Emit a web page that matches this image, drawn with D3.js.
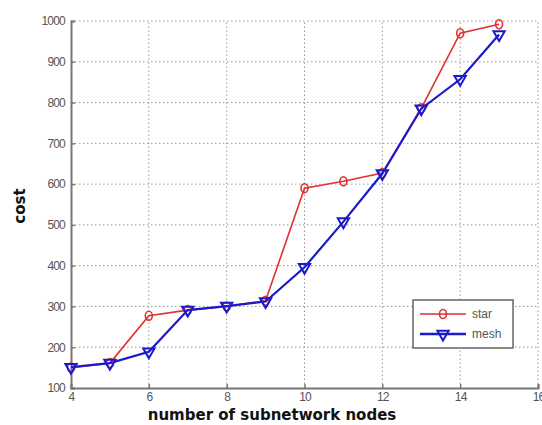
<!DOCTYPE html>
<html>
<head>
<meta charset="utf-8">
<script src="https://cdn.jsdelivr.net/npm/d3@7"></script>
<style>
  body { margin: 0; background: #fff; }
  svg { display: block; }
</style>
</head>
<body>
<svg id="chart" width="542" height="425"></svg>
<script>
// Cost per topology against the number of subnetwork nodes
const nodes = [4, 5, 6, 7, 8, 9, 10, 11, 12, 13, 14, 15];
const starCost = [150, 161, 277, 291, 300, 314, 590, 607, 627, 786, 970, 992];
const meshCost = [151, 161, 189, 291, 301, 312, 396, 508, 626, 785, 857, 967];
const xTicks = [4, 6, 8, 10, 12, 14, 16];
const yTicks = [100, 200, 300, 400, 500, 600, 700, 800, 900, 1000];

const svg = d3.select("#chart");
const margin = { left: 71, right: 4, top: 21, bottom: 37 };
const W = 542, H = 425;

const x = d3.scaleLinear().domain([4, 16]).range([margin.left, W - margin.right]);
const y = d3.scaleLinear().domain([100, 1000]).range([H - margin.bottom, margin.top]);

// dotted grid
const grid = svg.append("g");
grid.selectAll("line.gx").data(xTicks.slice(1)).join("line")
  .attr("x1", d => x(d)).attr("x2", d => x(d))
  .attr("y1", y(100)).attr("y2", y(1000))
  .attr("stroke", "#9a9a9a").attr("stroke-width", 1).attr("stroke-dasharray", "1.5,2.5");
grid.selectAll("line.gy").data(yTicks.slice(1)).join("line")
  .attr("x1", x(4)).attr("x2", x(16))
  .attr("y1", d => y(d)).attr("y2", d => y(d))
  .attr("stroke", "#9a9a9a").attr("stroke-width", 1).attr("stroke-dasharray", "1.5,2.5");

// axes
const axisColor = "#777";
const fmt = d3.format("d");
const xAxis = svg.append("g").attr("transform", `translate(0,${y(100)})`)
  .call(d3.axisBottom(x).tickValues(xTicks).tickFormat(fmt).tickSize(-4).tickPadding(4));
const yAxis = svg.append("g").attr("transform", `translate(${x(4)},0)`)
  .call(d3.axisLeft(y).tickValues(yTicks).tickFormat(fmt).tickSize(-4).tickPadding(6));
[xAxis, yAxis].forEach(a => {
  a.select(".domain").attr("stroke", axisColor).attr("stroke-width", 2);
  a.selectAll(".tick line").attr("stroke", axisColor).attr("stroke-width", 1.5);
  a.selectAll(".tick text").attr("fill", "#555").attr("font-family", "Liberation Sans, Arial, sans-serif")
    .attr("font-size", 12).style("letter-spacing", "-0.8px");
});

// axis titles
svg.append("text").attr("x", 272).attr("y", 420).attr("text-anchor", "middle")
  .attr("font-family", "DejaVu Sans, sans-serif").attr("font-weight", "bold").attr("font-size", 15)
  .attr("fill", "#111").text("number of subnetwork nodes");
svg.append("text").attr("transform", "translate(25,206) rotate(-90)").attr("text-anchor", "middle")
  .attr("font-family", "DejaVu Sans, sans-serif").attr("font-weight", "bold").attr("font-size", 15)
  .attr("fill", "#111").text("cost");

// series
const line = d3.line().x(d => x(d[0])).y(d => y(d[1]));
const starPts = nodes.map((n, i) => [n, starCost[i]]);
const meshPts = nodes.map((n, i) => [n, meshCost[i]]);
const red = "#e03030", blue = "#1a1acc";
const tri = d3.symbol().type(d3.symbolTriangle).size(55);

svg.append("path").datum(starPts).attr("d", line).attr("fill", "none")
  .attr("stroke", red).attr("stroke-width", 1.6);
svg.append("path").datum(meshPts).attr("d", line).attr("fill", "none")
  .attr("stroke", blue).attr("stroke-width", 2.2);

svg.selectAll("ellipse.star").data(starPts).join("ellipse")
  .attr("cx", d => x(d[0])).attr("cy", d => y(d[1])).attr("rx", 3.5).attr("ry", 4.5)
  .attr("fill", "none").attr("stroke", red).attr("stroke-width", 1.6);
svg.selectAll("path.mesh").data(meshPts).join("path")
  .attr("d", tri).attr("transform", d => `translate(${x(d[0])},${y(d[1])}) rotate(180)`)
  .attr("fill", "none").attr("stroke", blue).attr("stroke-width", 2);

// legend
const lg = svg.append("g").attr("transform", "translate(413,300)");
lg.append("rect").attr("width", 100).attr("height", 48).attr("fill", "#fff")
  .attr("stroke", "#666").attr("stroke-width", 1.5);
const items = [{ name: "star", color: red, sym: "o" }, { name: "mesh", color: blue, sym: "v" }];
items.forEach((it, i) => {
  const yy = 14 + i * 20;
  lg.append("line").attr("x1", 7).attr("x2", 53).attr("y1", yy).attr("y2", yy)
    .attr("stroke", it.color).attr("stroke-width", it.sym === "o" ? 1.6 : 2.5);
  if (it.sym === "o") {
    lg.append("ellipse").attr("cx", 30).attr("cy", yy).attr("rx", 3.5).attr("ry", 4.5)
      .attr("fill", "none").attr("stroke", it.color).attr("stroke-width", 1.6);
  } else {
    lg.append("path").attr("d", tri).attr("transform", `translate(30,${yy}) rotate(180)`)
      .attr("fill", "none").attr("stroke", it.color).attr("stroke-width", 2);
  }
  lg.append("text").attr("x", 59).attr("y", yy + 4).attr("font-family", "Liberation Sans, Arial, sans-serif")
    .attr("font-size", 12).attr("fill", "#555").text(it.name);
});
</script>
</body>
</html>
